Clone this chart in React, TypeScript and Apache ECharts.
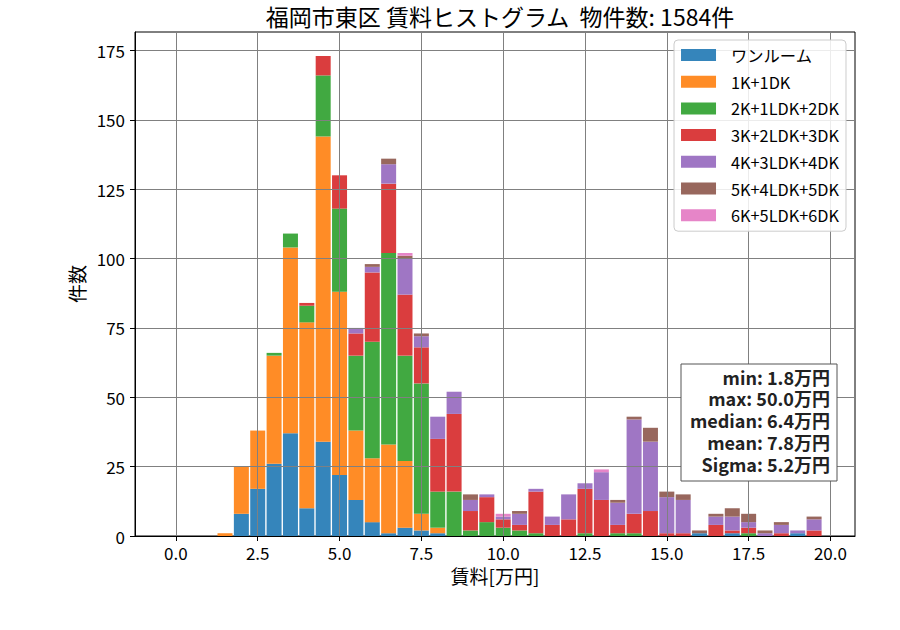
import React, { useEffect, useRef } from "react";
import * as echarts from "echarts";

const FONT = "'Noto Sans CJK JP', 'Noto Sans', sans-serif";

const titleText = "福岡市東区 賃料ヒストグラム  物件数: 1584件";
const xAxisName = "賃料[万円]";
const yAxisName = "件数";

const binCenters = [
  0.0, 0.5, 1.0, 1.5, 2.0, 2.5, 3.0, 3.5, 4.0, 4.5,
  5.0, 5.5, 6.0, 6.5, 7.0, 7.5, 8.0, 8.5, 9.0, 9.5,
  10.0, 10.5, 11.0, 11.5, 12.0, 12.5, 13.0, 13.5, 14.0, 14.5,
  15.0, 15.5, 16.0, 16.5, 17.0, 17.5, 18.0, 18.5, 19.0, 19.5,
];

// empty bins in the axis margins (x from -1.25 to 20.75)
const leftPadBins = [-1.0, -0.5];
const rightPadBins = [20.0, 20.5];

const seriesNames = [
  "ワンルーム",
  "1K+1DK",
  "2K+1LDK+2DK",
  "3K+2LDK+3DK",
  "4K+3LDK+4DK",
  "5K+4LDK+5DK",
  "6K+5LDK+6DK",
];

const oneRoom = [
  0, 0, 0, 0, 8, 17, 26, 37, 10, 34,
  22, 13, 5, 1, 3, 2, 1, 0, 0, 0,
  0, 0, 0, 0, 0, 0, 0, 0, 0, 0,
  0, 0, 1, 0, 1, 0, 0, 0, 1, 0,
];
const k1dk = [
  0, 0, 0, 1, 17, 21, 39, 67, 67, 110,
  66, 25, 23, 32, 24, 6, 2, 0, 0, 0,
  0, 0, 0, 0, 0, 0, 0, 0, 0, 0,
  0, 0, 0, 0, 0, 0, 0, 0, 0, 0,
];
const k2dk = [
  0, 0, 0, 0, 0, 0, 1, 5, 6, 22,
  30, 27, 42, 69, 38, 47, 13, 16, 2, 5,
  3, 2, 1, 0, 0, 1, 0, 1, 1, 0,
  0, 0, 0, 0, 0, 1, 0, 0, 0, 0,
];
const k3dk = [
  0, 0, 0, 0, 0, 0, 0, 0, 1, 7,
  12, 8, 25, 25, 22, 13, 19, 28, 7, 9,
  3, 2, 15, 4, 6, 16, 13, 3, 7, 9,
  1, 1, 0, 4, 1, 2, 0, 1, 0, 2,
];
const k4dk = [
  0, 0, 0, 0, 0, 0, 0, 0, 0, 0,
  0, 2, 2, 7, 13, 4, 8, 8, 4, 1,
  1, 4, 1, 3, 9, 2, 10, 8, 34, 25,
  13, 12, 0, 3, 5, 2, 1, 3, 1, 4,
];
const k5dk = [
  0, 0, 0, 0, 0, 0, 0, 0, 0, 0,
  0, 0, 1, 2, 1, 1, 0, 0, 2, 0,
  0, 1, 0, 0, 0, 0, 0, 1, 1, 5,
  2, 2, 1, 1, 3, 3, 1, 1, 0, 1,
];
const k6dk = [
  0, 0, 0, 0, 0, 0, 0, 0, 0, 0,
  0, 0, 0, 0, 1, 0, 0, 0, 0, 0,
  1, 0, 0, 0, 0, 0, 1, 0, 0, 0,
  0, 0, 0, 0, 0, 0, 0, 0, 0, 0,
];

const seriesValues = [oneRoom, k1dk, k2dk, k3dk, k4dk, k5dk, k6dk];

const seriesColors = [
  "#3585bb",
  "#ff8c26",
  "#41a941",
  "#da3d3e",
  "#9f76c4",
  "#98675d",
  "#e685c8",
];

const xTickValues = [0, 2.5, 5, 7.5, 10, 12.5, 15, 17.5, 20];
const yTickValues = [0, 25, 50, 75, 100, 125, 150, 175];

const statLines = [
  "min: 1.8万円",
  "max: 50.0万円",
  "median: 6.4万円",
  "mean: 7.8万円",
  "Sigma: 5.2万円",
];

export default function App() {
  const ref = useRef<HTMLDivElement>(null);

  useEffect(() => {
    if (!ref.current) return;
    const chart = echarts.init(ref.current, null, { renderer: "svg" });

    const allBins = [...leftPadBins, ...binCenters, ...rightPadBins];
    const categories = allBins.map((b) => b.toFixed(1));

    const series = seriesNames.map((name, si) => ({
      name,
      type: "bar",
      stack: "total",
      xAxisIndex: 1,
      yAxisIndex: 0,
      barWidth: 15,
      itemStyle: { color: seriesColors[si] },
      emphasis: { disabled: true },
      data: [
        ...leftPadBins.map(() => 0),
        ...seriesValues[si],
        ...rightPadBins.map(() => 0),
      ],
      z: 2,
    }));

    const statTexts = statLines.map((line, i) => ({
      type: "text",
      x: 830,
      y: 376.5 + i * 21.8,
      z: 101,
      style: {
        text: line,
        align: "right",
        verticalAlign: "middle",
        fontFamily: FONT,
        fontSize: 18,
        fontWeight: "bold",
        fill: "#222222",
      },
    }));

    const option: any = {
      animation: false,
      backgroundColor: "#ffffff",
      textStyle: { fontFamily: FONT },
      title: {
        text: titleText,
        left: 495,
        top: -1,
        textAlign: "center",
        textStyle: {
          fontFamily: FONT,
          fontSize: 23,
          fontWeight: "normal",
          color: "#000",
        },
      },
      grid: {
        left: 135,
        right: 45,
        top: 32,
        bottom: 94,
        show: true,
        borderColor: "#000",
        borderWidth: 1,
        backgroundColor: "transparent",
        outerBoundsMode: "none",
      },
      legend: {
        show: true,
        orient: "vertical",
        right: 54,
        top: 40,
        padding: [5, 7, 6, 7],
        itemWidth: 35,
        itemHeight: 12,
        itemGap: 6.7,
        icon: "rect",
        backgroundColor: "rgba(255,255,255,0.85)",
        borderColor: "#cccccc",
        borderWidth: 1,
        borderRadius: 4,
        selectedMode: false,
        z: 10,
        textStyle: {
          fontFamily: FONT,
          fontSize: 16.3,
          lineHeight: 20,
          color: "#000",
          padding: [0, 0, 0, 10],
        },
        data: seriesNames,
      },
      xAxis: [
        {
          type: "value",
          min: -1.25,
          max: 20.75,
          z: 3,
          name: xAxisName,
          nameLocation: "middle",
          nameGap: 28,
          nameTextStyle: { fontFamily: FONT, fontSize: 19, color: "#000" },
          axisLine: {
            show: true,
            onZero: false,
            lineStyle: { color: "#000", width: 1 },
          },
          axisTick: {
            show: true,
            length: 5,
            inside: false,
            customValues: xTickValues,
            lineStyle: { color: "#000" },
          },
          axisLabel: {
            show: true,
            customValues: xTickValues,
            margin: 8,
            fontFamily: FONT,
            fontSize: 17,
            color: "#000",
            formatter: (v: number) => v.toFixed(1),
          },
          splitLine: { show: true, lineStyle: { color: "#808080", width: 1 } },
        },
        {
          type: "category",
          data: categories,
          boundaryGap: true,
          show: false,
          position: "bottom",
          axisLine: { show: false, onZero: false },
          axisTick: { show: false },
          axisLabel: { show: false },
          splitLine: { show: false },
        },
      ],
      yAxis: {
        type: "value",
        min: 0,
        max: 181.65,
        z: 3,
        name: yAxisName,
        nameLocation: "middle",
        nameGap: 48,
        nameRotate: 90,
        nameTextStyle: { fontFamily: FONT, fontSize: 19, color: "#000" },
        axisLine: {
          show: true,
          onZero: false,
          lineStyle: { color: "#000", width: 1 },
        },
        axisTick: {
          show: true,
          length: 5,
          inside: false,
          customValues: yTickValues,
          lineStyle: { color: "#000" },
        },
        axisLabel: {
          show: true,
          customValues: yTickValues,
          margin: 10,
          fontFamily: FONT,
          fontSize: 17,
          color: "#000",
        },
        splitLine: { show: true, lineStyle: { color: "#808080", width: 1 } },
      },
      graphic: [
        {
          type: "group",
          z: 100,
          children: [
            {
              type: "rect",
              shape: { x: 681, y: 364, width: 156, height: 117 },
              style: { fill: "#ffffff", stroke: "#555555", lineWidth: 1 },
              z: 100,
            },
            ...statTexts,
          ],
        },
      ],
      series,
    };

    chart.setOption(option);
    return () => {
      chart.dispose();
    };
  }, []);

  return (
    <div
      ref={ref}
      style={{ position: "fixed", left: 0, top: 0, width: 900, height: 630 }}
    />
  );
}
